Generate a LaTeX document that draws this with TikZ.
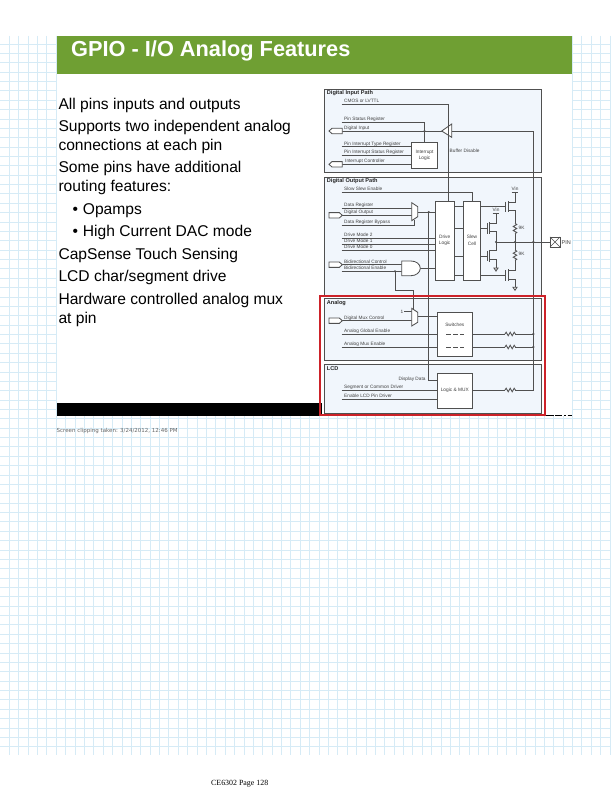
\documentclass[tikz,border=0pt]{standalone}
\usetikzlibrary{shapes.misc}
\usepackage{fontspec}
\setmainfont{Liberation Sans}
\newfontfamily\footfont{Liberation Serif}
\newfontfamily\clipfont{DejaVu Sans}
\definecolor{gridblue}{HTML}{D6EBF6}
\definecolor{headgreen}{HTML}{6F9F33}
\definecolor{pathfill}{HTML}{F1F6FC}
\definecolor{wirecol}{HTML}{505050}
\definecolor{framered}{HTML}{CC2229}
\definecolor{labcol}{HTML}{404040}
\tikzset{
  wire/.style={draw=wirecol,line width=.85pt},
  pathbox/.style={draw=wirecol,fill=pathfill,line width=.8pt},
  sigtext/.style={anchor=base west,inner sep=0pt,text=labcol,font=\fontsize{4.75}{6}\selectfont},
  titletext/.style={anchor=base west,inner sep=0pt,text=black!85,font=\fontsize{5.6}{6.5}\selectfont\bfseries},
  blockbox/.style={draw=wirecol,fill=white,line width=.85pt,inner sep=0pt,outer sep=0pt,align=center,text=labcol,font=\fontsize{4.8}{6.5}\selectfont},
  body/.style={anchor=base west,inner sep=0pt,text=black,font=\fontsize{15.6}{18}\selectfont},
  dot/.style={circle,fill=wirecol,inner sep=0pt,minimum size=2.4pt},
}
% name, x1, y1, x2, y2, text
\newcommand{\Block}[6]{\node[blockbox,minimum width={(#4-#2)*1pt},minimum height={(#5-#3)*1pt}] (#1) at ({(#2+#4)/2},{(#3+#5)/2}) {#6};}
% name, x, y, label, label x : signal start and its label
\newcommand{\Sig}[5]{\coordinate (#1) at (#2,#3); \node[sigtext] (#1-lab) at (#5,{#3-1.4}) {#4};}
\newcommand{\PortR}[3]{\draw[wire,fill=white] (#1,{#3-2.7}) -- ({#2-3},{#3-2.7}) -- (#2,#3) -- ({#2-3},{#3+2.7}) -- (#1,{#3+2.7}) -- cycle;}
\newcommand{\PortL}[3]{\draw[wire,fill=white] (#1,#3) -- ({#1+3},{#3-2.7}) -- (#2,{#3-2.7}) -- (#2,{#3+2.7}) -- ({#1+3},{#3+2.7}) -- cycle;}
\newcommand{\HRes}[2]{\draw[wire] (#1,#2) -- ++(1.2,-1.8) -- ++(2,3.6) -- ++(2,-3.6) -- ++(2,3.6) -- ++(2,-3.6) -- ++(1.2,1.8);}
\newcommand{\VRes}[2]{\draw[wire] (#1,#2) -- ++(1.8,1.2) -- ++(-3.6,2) -- ++(3.6,2) -- ++(-3.6,2) -- ++(3.6,2) -- ++(-1.8,1.2);}
\newcommand{\Gnd}[2]{\draw[wire,fill=white] ({#1-2},#2) -- ({#1+2},#2) -- (#1,{#2+3}) -- cycle;}
\newcommand{\Vin}[2]{\draw[wire] ({#1-3.3},#2) -- ({#1+3.3},#2); \node[sigtext,anchor=base] at (#1,{#2-1.6}) {Vin};}
\newcommand{\Fet}[3]{\draw[wire,line width=1pt] (#1,#2) -- (#1,#3); \draw[wire,line width=1pt] ({#1+2.7},{#2-.6}) -- ({#1+2.7},{#3+.6});}
\begin{document}
\begin{tikzpicture}[x=1pt,y=-1pt]
\useasboundingbox (0,0) rectangle (611,792);
\fill[white] (0,0) rectangle (611,792);
% squared paper
\foreach \k in {1,...,65} {\draw[gridblue,line width=.9pt] ({9.385*\k},36) -- ({9.385*\k},755);}
\foreach \k in {0,...,75} {\draw[gridblue,line width=.9pt] (0,{44+9.37*\k}) -- (611,{44+9.37*\k});}
% slide
\fill[white] (56.5,36) rectangle (572,416);
\fill[headgreen] (56.5,36) rectangle (571.5,74);
\fill[black] (56.5,403) rectangle (322,416);
\draw[black,line width=.9pt,dash pattern=on 9pt off 1pt on 7pt off 2pt on 1.5pt off 2pt] (545,415) -- (571.5,415);
\node[anchor=base west,inner sep=0pt,text=white,font=\fontsize{21.75}{26}\selectfont\bfseries] (title) at (71,56.8) {GPIO - I/O Analog Features};
\node[body] (t1) at (58.3,109) {All pins inputs and outputs};
\node[body] (t2) at (58.3,131.7) {Supports two independent analog};
\node[body] (t3) at (58.3,150.7) {connections at each pin};
\node[body] (t4) at (58.3,172.7) {Some pins have additional};
\node[body] (t5) at (58.3,191.7) {routing features:};
\node[body] (t6) at (72.5,214) {•};
\node[body] (t7) at (82.7,214) {Opamps};
\node[body] (t8) at (72.5,236.7) {•};
\node[body] (t9) at (82.7,236.7) {High Current DAC mode};
\node[body] (t10) at (58.3,259.3) {CapSense Touch Sensing};
\node[body] (t11) at (58.3,281.7) {LCD char/segment drive};
\node[body] (t12) at (58.3,304.3) {Hardware controlled analog mux};
\node[body] (t13) at (58.3,323.3) {at pin};
\node[anchor=base west,inner sep=0pt,text=black!60,font=\clipfont\fontsize{5.5}{7}\selectfont] (clip) at (56.5,432.5) {Screen clipping taken: 3/24/2012, 12:46 PM};
\node[anchor=base west,inner sep=0pt,text=black,font=\footfont\fontsize{7.9}{9}\selectfont] (foot) at (211,785.5) {CE6302 Page 128};
% path panels
\draw[pathbox] (324.3,89.3) rectangle (541.7,172.7);
\draw[pathbox] (324.3,177.3) rectangle (541.7,295);
\draw[pathbox] (324.3,298.7) rectangle (541.7,360);
\draw[pathbox] (324.3,364) rectangle (541.7,413);
\node[titletext] (ttl1) at (326.7,94) {Digital Input Path};
\node[titletext] (ttl2) at (326.7,182.5) {Digital Output Path};
\node[titletext] (ttl3) at (326.7,304.5) {Analog};
\node[titletext] (ttl4) at (326.7,370) {LCD};
% fixed points
\coordinate (bufL) at (441.7,131);
\coordinate (bufR) at (451.7,131);
\coordinate (bus) at (533.3,131);
\coordinate (pin) at (550,242);
\coordinate (mA) at (417.7,212);
\coordinate (mB) at (417.7,316);
\coordinate (jd) at (428.7,212);
\coordinate (jb) at (395,271.3);
\coordinate (jr) at (413.3,290.7);
\coordinate (gateT) at (420.3,268.3);
% signals
\Sig{cmos}{341.7}{104.3}{CMOS or LVTTL}{344}
\Sig{pstat}{341.7}{122}{Pin Status Register}{344}
\Sig{dinp}{342.3}{131}{Digital Input}{344}
\Sig{ptype}{341.7}{146.7}{Pin Interrupt Type Register}{344}
\Sig{pintst}{341.7}{155.3}{Pin Interrupt Status Register}{344}
\Sig{ictrl}{342.3}{164.3}{Interrupt Controller}{345}
\Sig{slowsl}{341.7}{192.3}{Slow Slew Enable}{344}
\Sig{dreg}{341.7}{208}{Data Register}{344}
\Sig{dout}{342.3}{215.3}{Digital Output}{344}
\Sig{dbyp}{341.7}{225}{Data Register Bypass}{344}
\Sig{dm2}{341.7}{238}{Drive Mode 2}{344}
\Sig{dm1}{341.7}{244}{Drive Mode 1}{344}
\Sig{dm0}{341.7}{250}{Drive Mode 0}{344}
\Sig{bic}{342.3}{264.7}{Bidirectional Control}{344}
\Sig{bie}{341.7}{271.3}{Bidirectional Enable}{344}
\Sig{dmc}{342.3}{320.7}{Digital Mux Control}{344}
\Sig{age}{341.7}{334}{Analog Global Enable}{344}
\Sig{ame}{341.7}{347}{Analog Mux Enable}{344}
\Sig{seg}{341.7}{390}{Segment or Common Driver}{344}
\Sig{elcd}{341.7}{399}{Enable LCD Pin Driver}{344}
% wires under the blocks
\draw[wire] (bufR) -- (bus) -- (bus |- 0,390) -- (472.3,390);
\draw[wire] (cmos) -- (448.3,104.3) -- (448.3,201);
\draw[wire] (jd) -- (428.7,380.7) -- (437.3,380.7);
\draw[wire] (jb) -- (jb |- jr) -- (jr) -- (413.3,309.5);
% blocks
\Block{intr}{411.7}{142.3}{437.3}{168.7}{Interrupt\\Logic}
\Block{drive}{435}{201}{454.3}{280}{Drive\\Logic}
\Block{slew}{463.3}{201}{480.7}{280}{Slew\\Cell}
\Block{sw}{437.3}{312}{472.3}{356}{}
\Block{lcdmux}{437.3}{373}{472.3}{408}{Logic \& MUX}
\node[sigtext,anchor=base] (swlab) at (454.8,326.5) {Switches};
% wires, input path
\draw[wire] (pstat) -| (intr.north);
\draw[wire] (dinp) -- (bufL);
\draw[wire] (ptype) -- (ptype -| intr.west);
\draw[wire] (pintst) -- (pintst -| intr.west);
\draw[wire] (ictrl) -- (ictrl -| intr.west);
\node[dot] (j1) at (424.5,131) {};
\draw[wire,fill=white] (bufL) -- (451.7,124) -- (451.7,137.3) -- cycle;
\draw[wire] (448.3,126) -- (448.3,136);
\node[sigtext] (bufdis) at (449.5,152.5) {Buffer Disable};
\PortL{329}{342.3}{131}
\PortL{329}{342.3}{164.3}
% output path
\draw[wire] (slowsl) -| (slew.north);
\draw[wire] (dreg) -- (dreg -| 411.7,0);
\draw[wire] (dout) -- (dout -| 411.7,0);
\draw[wire] (dbyp) -- (414.3,225) -- (414.3,219.5);
\draw[wire] (dm2) -- (dm2 -| drive.west);
\draw[wire] (dm1) -- (dm1 -| drive.west);
\draw[wire] (dm0) -- (dm0 -| drive.west);
\draw[wire] (bic) -- (401.7,264.7);
\draw[wire] (bie) -- (401.7,271.3);
\draw[wire] (gateT) -- (gateT -| drive.west);
\draw[wire] (mA) -- (mA -| drive.west);
\node[dot] (j2) at (jd) {};
\node[dot] (j3) at (jb) {};
\PortR{329}{342.3}{215.3}
\PortR{329}{342.3}{264.7}
\draw[wire,fill=white] (411.7,202.7) -- (417.7,206.7) -- (417.7,216.7) -- (411.7,220.7) -- cycle;
\draw[wire,fill=white] (401.7,261) -- (411,261) .. controls (416,261) and (420.3,264) .. (gateT) .. controls (420.3,272.5) and (416,275.7) .. (411,275.7) -- (401.7,275.7) -- cycle;
\foreach \yy in {206,228.3,256,275.3} {\draw[wire] (drive.east |- 0,\yy) -- (slew.west |- 0,\yy);}
% transistors
\draw[wire] (slew.east |- 0,206) -- (505.7,206);
\draw[wire] (slew.east |- 0,228.3) -- (487,228.3);
\draw[wire] (slew.east |- 0,256) -- (487,256);
\draw[wire] (slew.east |- 0,275.3) -- (505.7,275.3);
\Fet{505.7}{201.7}{211.7}
\Fet{487}{223}{233.5}
\Fet{487}{250.5}{261}
\Fet{505.7}{270}{280.5}
\draw[wire] (515,192) -- (515,202) -- (508.4,202);
\draw[wire] (508.4,210.7) -- (515,210.7) -- (515,223.3);
\VRes{515}{223.3}
\draw[wire] (515,233.7) -- (515,250);
\VRes{515}{250}
\draw[wire] (515,260.4) -- (515,270) -- (508.4,270);
\draw[wire] (508.4,279.3) -- (515,279.3) -- (515,287.3);
\draw[wire] (496,213.3) -- (496,223.3) -- (489.7,223.3);
\draw[wire] (489.7,231.7) -- (496,231.7) -- (496,250) -- (489.7,250);
\draw[wire] (489.7,259.3) -- (496,259.3) -- (496,268);
\draw[wire] (496,242) -- (pin);
\Vin{515}{192}
\Vin{496}{213.3}
\Gnd{496}{268}
\Gnd{515}{287.3}
\node[sigtext] (r9a) at (518.5,229) {9K};
\node[sigtext] (r9b) at (518.5,255.8) {9K};
\node[dot] (j4) at (496,242) {};
\node[dot] (j5) at (515,242) {};
\node[dot] (j6) at (533.3,242) {};
\node[draw=wirecol,fill=white,line width=.6pt,minimum size=9.5pt,inner sep=0pt,anchor=west,cross out] (pinbox) at (pin) {};
\draw[wire,line width=.6pt] (pinbox.north west) rectangle (pinbox.south east);
\node[sigtext,font=\fontsize{5.5}{6}\selectfont] (pinlab) at (561.5,244) {PIN};
% analog
\draw[wire] (dmc) -- (411.7,320.7);
\node[sigtext] (one) at (400.5,313.2) {1};
\draw[wire] (404,311.7) -- (411.7,311.7);
\draw[wire] (mB) -- (mB -| sw.west);
\draw[wire,fill=white] (411.7,308.3) -- (417.7,312.3) -- (417.7,322.3) -- (411.7,326) -- cycle;
\PortR{329}{342.3}{320.7}
\draw[wire] (age) -- (age -| sw.west);
\draw[wire] (ame) -- (ame -| sw.west);
\draw[wire,dash pattern=on 4.5pt off 2.5pt] (446,334) -- (464,334);
\draw[wire,dash pattern=on 4.5pt off 2.5pt] (446,347) -- (464,347);
\draw[wire] (sw.east |- age) -- (505,334);
\draw[wire] (515.4,334) -- (533.3,334);
\draw[wire] (sw.east |- ame) -- (505,347);
\draw[wire] (515.4,347) -- (533.3,347);
\HRes{505}{334}
\HRes{505}{347}
\node[dot] (j7) at (533.3,334) {};
\node[dot] (j8) at (533.3,347) {};
% lcd
\draw[wire] (seg) -- (seg -| lcdmux.west);
\draw[wire] (elcd) -- (elcd -| lcdmux.west);
\fill[pathfill] (505,386) rectangle (515.4,394);
\HRes{505}{390}
\node[sigtext,anchor=base east] (ddlab) at (425.7,380.5) {Display Data};
% red frame
\draw[framered,line width=2pt] (320.3,296) rectangle (545,414.7);
\end{tikzpicture}
\end{document}
